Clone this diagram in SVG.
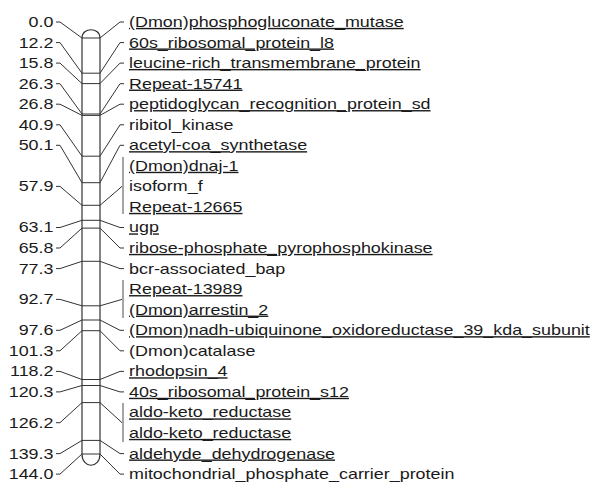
<svg xmlns="http://www.w3.org/2000/svg" width="595" height="484" viewBox="0 0 595 484">
<style>
.t{font-family:"Liberation Sans",Arial,sans-serif;font-size:14px;fill:#1a1a1a}
.n{text-anchor:end}
.u{text-decoration:underline}
.c{fill:none;stroke:#333;stroke-width:1}
.k{fill:none;stroke:#333;stroke-width:1}
.b{fill:none;stroke:#888;stroke-width:1.5}
.chr{fill:#fff;stroke:#333;stroke-width:1.2}
</style>
<rect width="595" height="484" fill="#fff"/>
<g id="chromosome">
<path class="chr" d="M82,38 C82,27 100,27 100,38 L100,454 C100,469 82,469 82,454 Z"/>
<path class="k" d="M82,38H100M82,73.2H100M82,83.6H100M82,114H100M82,115.4H100M82,156.2H100M82,182.7H100M82,205.3H100M82,220.3H100M82,228.1H100M82,261.3H100M82,305.8H100M82,320H100M82,330.7H100M82,379.5H100M82,385.5H100M82,402.6H100M82,440.4H100M82,454H100"/>
</g>
<g id="connectors">
<path class="c" d="M56,22H60L82,38M56,42.6H60L82,73.2M56,63.1H60L82,83.6M56,83.7H60L82,114M56,104.2H60L82,115.4M56,124.8H60L82,156.2M56,145.3H60L82,182.7M56,186.4H60L82,205.3M56,227.5H60L82,220.3M56,248H60L82,228.1M56,268.6H60L82,261.3M56,299.4H60L82,305.8M56,330.3H60L82,320M56,350.8H60L82,330.7M56,371.4H60L82,379.5M56,391.9H60L82,385.5M56,422.7H60L82,402.6M56,453.6H60L82,440.4M56,474.1H60L82,454"/>
<path class="c" d="M100,38L120,22H124M100,73.2L120,42.6H124M100,83.6L120,63.1H124M100,114L120,83.7H124M100,115.4L120,104.2H124M100,156.2L120,124.8H124M100,182.7L120,145.3H124M100,205.3L122,186.4M100,220.3L120,227.5H124M100,228.1L120,248H124M100,261.3L120,268.6H124M100,305.8L122,299.4M100,320L120,330.3H124M100,330.7L120,350.8H124M100,379.5L120,371.4H124M100,385.5L120,391.9H124M100,402.6L122,422.7M100,440.4L120,453.6H124M100,454L120,474.1H124"/>
<path class="b" d="M123,157V214M123,280V318M123,403V442"/>
</g>
<g id="positions" transform="scale(1.28,1)">
<text class="t n" x="41.8" y="27">0.0</text>
<text class="t n" x="41.8" y="47.6">12.2</text>
<text class="t n" x="41.8" y="68.1">15.8</text>
<text class="t n" x="41.8" y="88.7">26.3</text>
<text class="t n" x="41.8" y="109.2">26.8</text>
<text class="t n" x="41.8" y="129.8">40.9</text>
<text class="t n" x="41.8" y="150.3">50.1</text>
<text class="t n" x="41.8" y="191.4">57.9</text>
<text class="t n" x="41.8" y="232.5">63.1</text>
<text class="t n" x="41.8" y="253">65.8</text>
<text class="t n" x="41.8" y="273.6">77.3</text>
<text class="t n" x="41.8" y="304.4">92.7</text>
<text class="t n" x="41.8" y="335.3">97.6</text>
<text class="t n" x="41.8" y="355.8">101.3</text>
<text class="t n" x="41.8" y="376.4">118.2</text>
<text class="t n" x="41.8" y="396.9">120.3</text>
<text class="t n" x="41.8" y="427.7">126.2</text>
<text class="t n" x="41.8" y="458.6">139.3</text>
<text class="t n" x="41.8" y="479.1">144.0</text>
</g>
<g id="loci" transform="scale(1.28,1)">
<text class="t u" x="100.8" y="27">(Dmon)phosphogluconate_mutase</text>
<text class="t u" x="100.8" y="47.6">60s_ribosomal_protein_l8</text>
<text class="t u" x="100.8" y="68.1">leucine-rich_transmembrane_protein</text>
<text class="t u" x="100.8" y="88.7">Repeat-15741</text>
<text class="t u" x="100.8" y="109.2">peptidoglycan_recognition_protein_sd</text>
<text class="t" x="100.8" y="129.8">ribitol_kinase</text>
<text class="t u" x="100.8" y="150.3">acetyl-coa_synthetase</text>
<text class="t u" x="100.8" y="170.9">(Dmon)dnaj-1</text>
<text class="t" x="100.8" y="191.4">isoform_f</text>
<text class="t u" x="100.8" y="212">Repeat-12665</text>
<text class="t u" x="100.8" y="232.5">ugp</text>
<text class="t u" x="100.8" y="253">ribose-phosphate_pyrophosphokinase</text>
<text class="t" x="100.8" y="273.6">bcr-associated_bap</text>
<text class="t u" x="100.8" y="294.2">Repeat-13989</text>
<text class="t u" x="100.8" y="314.7">(Dmon)arrestin_2</text>
<text class="t u" x="100.8" y="335.3">(Dmon)nadh-ubiquinone_oxidoreductase_39_kda_subunit</text>
<text class="t" x="100.8" y="355.8">(Dmon)catalase</text>
<text class="t u" x="100.8" y="376.4">rhodopsin_4</text>
<text class="t u" x="100.8" y="396.9">40s_ribosomal_protein_s12</text>
<text class="t u" x="100.8" y="417.5">aldo-keto_reductase</text>
<text class="t u" x="100.8" y="438">aldo-keto_reductase</text>
<text class="t u" x="100.8" y="458.6">aldehyde_dehydrogenase</text>
<text class="t" x="100.8" y="479.1">mitochondrial_phosphate_carrier_protein</text>
</g>
</svg>
